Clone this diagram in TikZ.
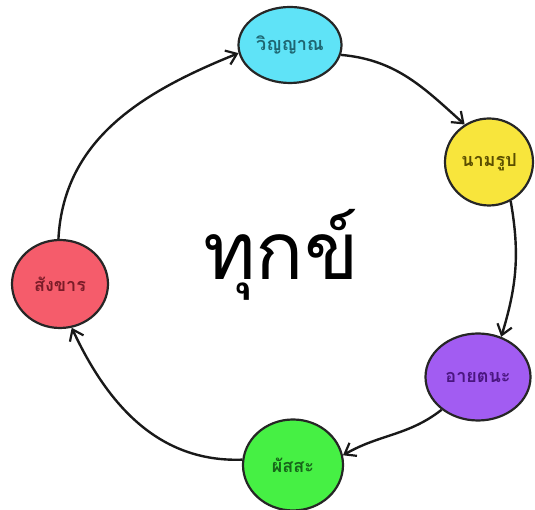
\documentclass[tikz,border=0pt]{standalone}
\usepackage{fontspec}
\usepackage{xcolor}
\usetikzlibrary{arrows.meta,shapes.geometric}
\newfontfamily\thaifont[Script=Thai]{Loma}
\definecolor{vinfill}{HTML}{5FE3F7}
\definecolor{vintext}{HTML}{1E6672}
\definecolor{namfill}{HTML}{F8E53C}
\definecolor{namtext}{HTML}{5A4E00}
\definecolor{ayafill}{HTML}{A25CF2}
\definecolor{ayatext}{HTML}{4A1680}
\definecolor{pasfill}{HTML}{46F044}
\definecolor{pastext}{HTML}{17661A}
\definecolor{sangfill}{HTML}{F55C6B}
\definecolor{sangtext}{HTML}{7A1C28}

\begin{document}
\begin{tikzpicture}[x=1pt,y=1pt,>={Straight Barb[length=10pt,width=15pt,line width=2.2pt]},line join=round,
  phase/.style={ellipse,draw=black!85,line width=2.2pt,inner sep=0pt,
    font=\thaifont\bfseries\fontsize{18}{20}\selectfont},
  link/.style={->,line width=2.4pt,black!90}]
  \useasboundingbox (0,0) rectangle (535,510);
  % the five links of the cycle
  \node[phase,fill=vinfill,text=vintext,minimum width=103pt,minimum height=76pt] (VIN) at (290,465) {วิญญาณ};
  \node[phase,fill=namfill,text=namtext,minimum width=88pt,minimum height=87pt] (NAM) at (489,348) {นามรูป};
  \node[phase,fill=ayafill,text=ayatext,minimum width=105pt,minimum height=87pt] (AYA) at (478,133) {อายตนะ};
  \node[phase,fill=pasfill,text=pastext,minimum width=100pt,minimum height=91pt] (PAS) at (293,45) {ผัสสะ};
  \node[phase,fill=sangfill,text=sangtext,minimum width=96pt,minimum height=88pt] (SANG) at (60,226) {สังขาร};
  \node[font=\thaifont\fontsize{80}{90}\selectfont] (DUK) at (281,255) {ทุกข์};
  % arrows between them
  \draw[link] (SANG.92) to[out=87,in=202] (VIN.189);
  \draw[link] (VIN.-11) to[out=-5,in=138] (NAM.123);
  \draw[link] (NAM.299) to[out=-80,in=73] (AYA.60);
  \draw[link] (AYA.222) to[out=218,in=30] (PAS.11);
  \draw[link] (PAS.174) to[out=182,in=295] (SANG.285);
\end{tikzpicture}
\end{document}
